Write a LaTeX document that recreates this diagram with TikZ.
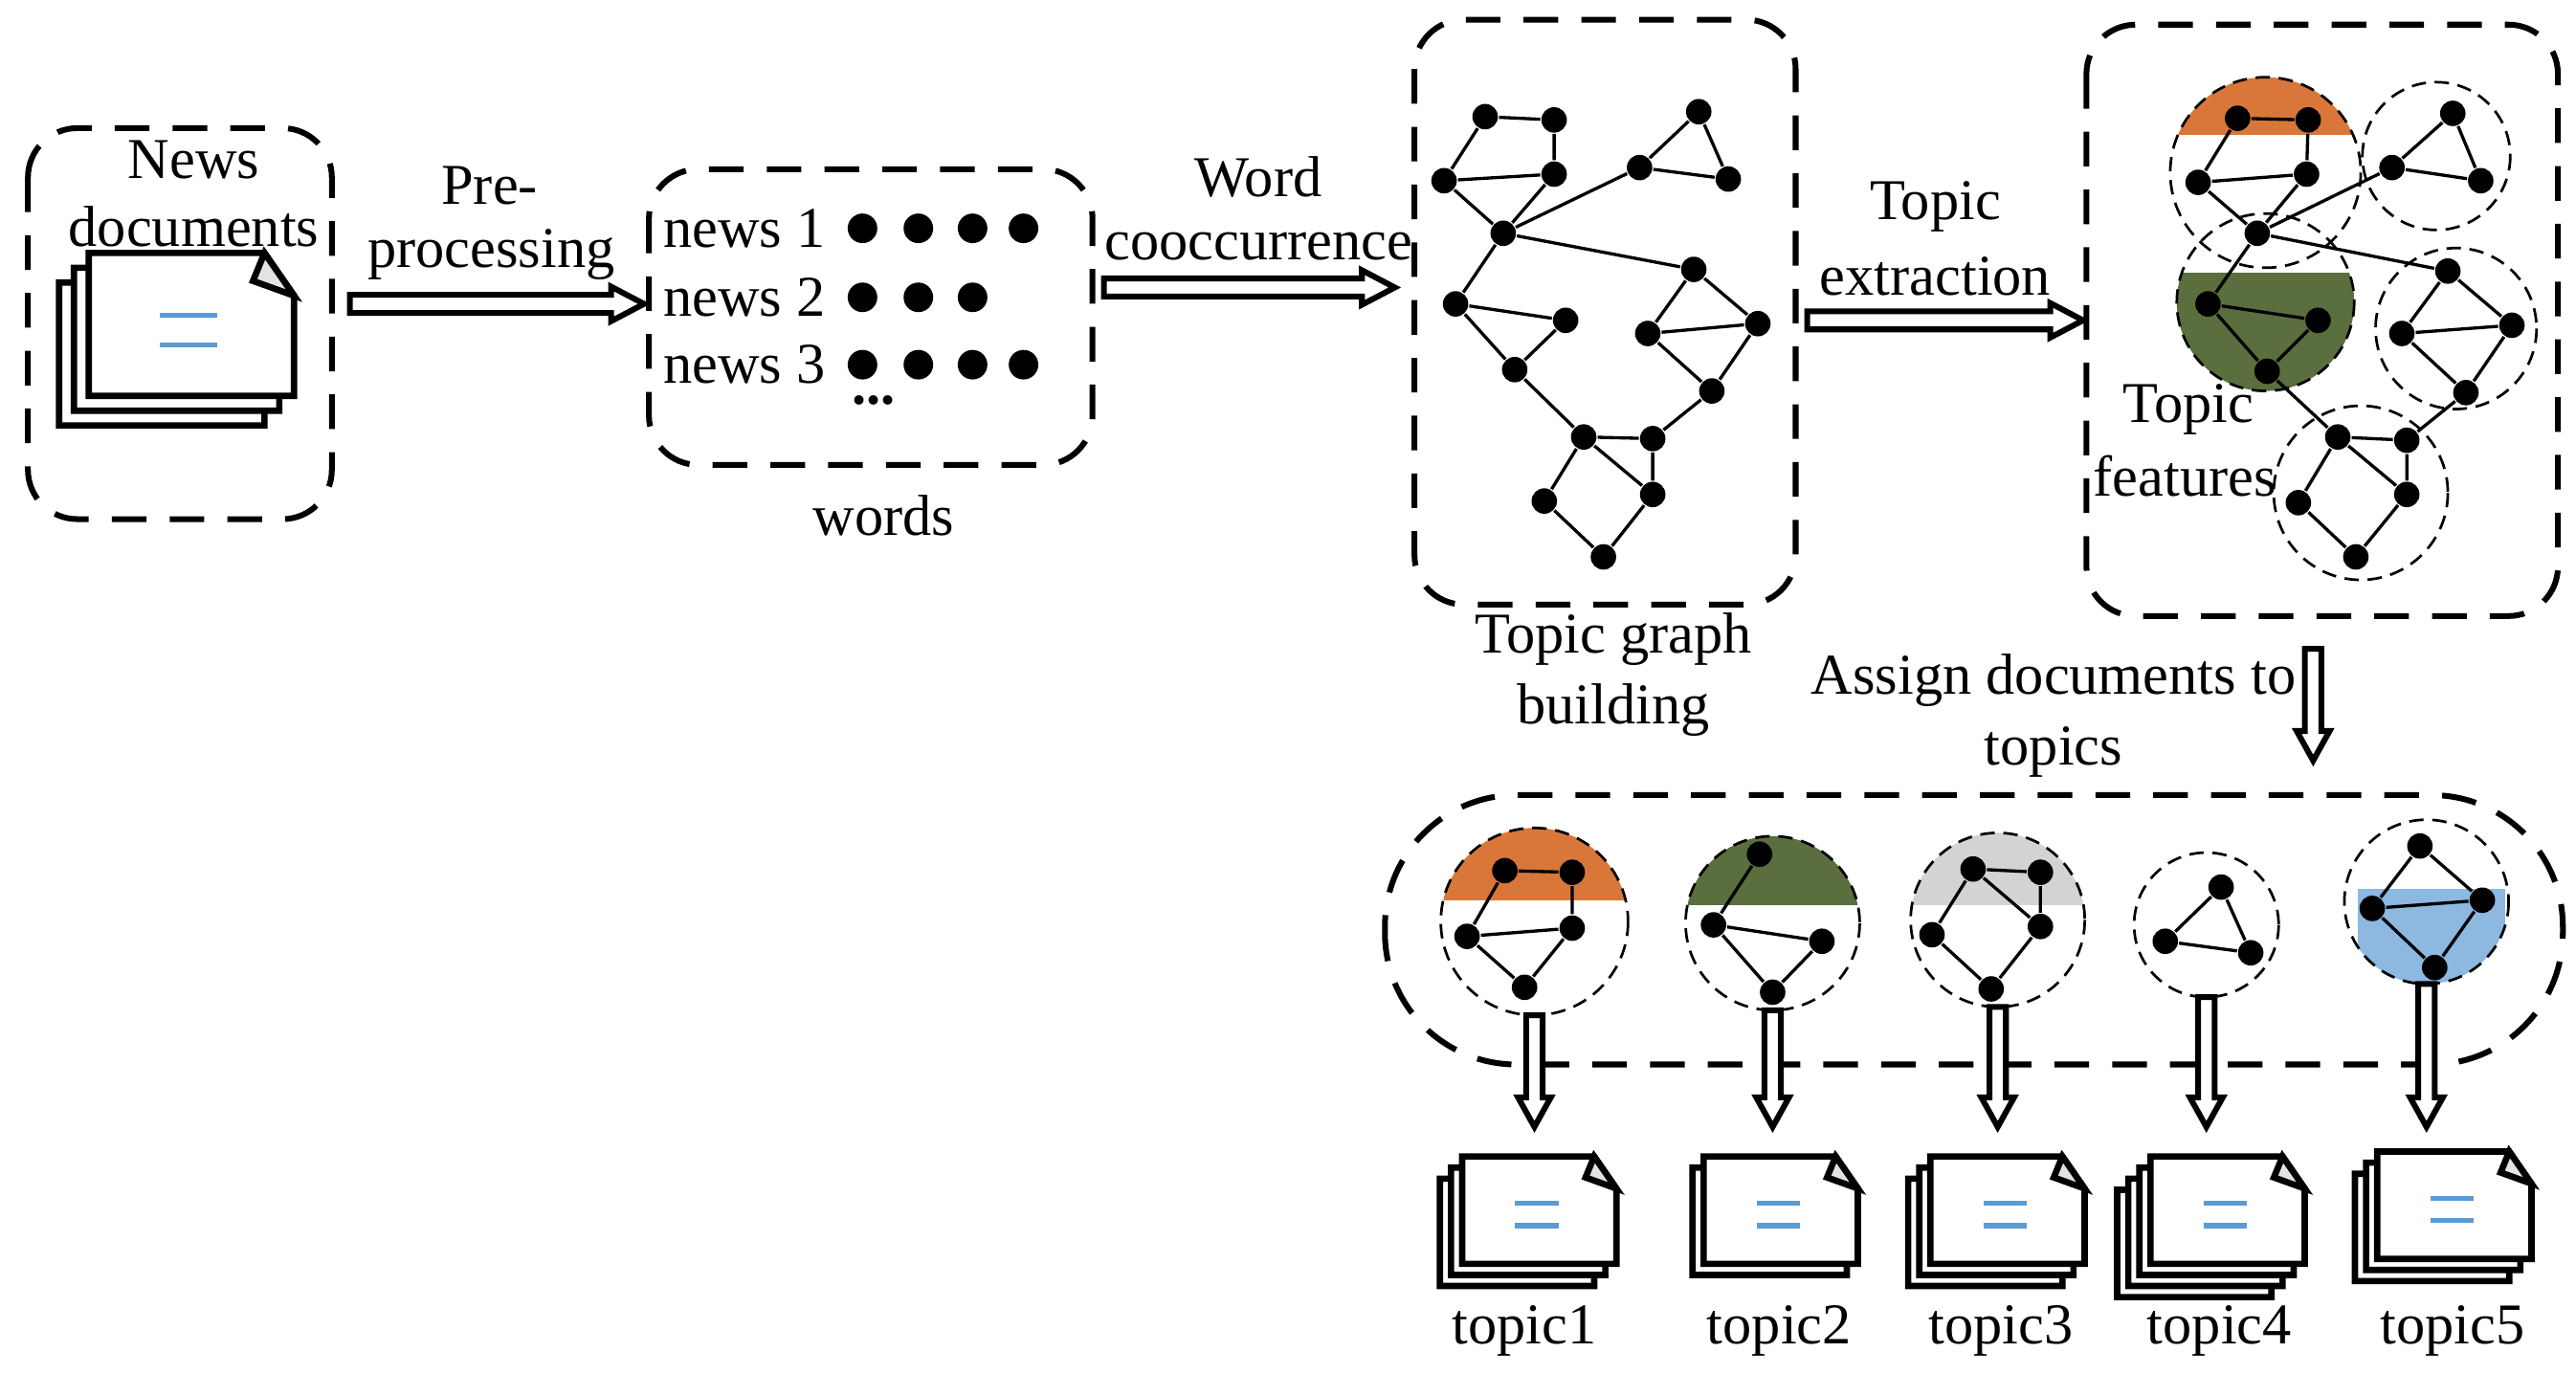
\documentclass[tikz,border=0pt]{standalone}
\usepackage{fontspec}
\setmainfont{Liberation Serif}
\definecolor{cor}{HTML}{D9773A}
\definecolor{cgr}{HTML}{5A6E3E}
\definecolor{cgy}{HTML}{D3D3D3}
\definecolor{cbl}{HTML}{8DB8E0}
\definecolor{cln}{HTML}{5B9BD5}
\definecolor{cfold}{HTML}{E3E3E3}
\begin{document}
\begin{tikzpicture}[x=0.01cm,y=-0.01cm,
  dot/.style={circle,fill=black,inner sep=0pt,minimum size=0.155cm},
  wdot/.style={circle,fill=black,inner sep=0pt,minimum size=0.18cm},
  lab/.style={font=\fontsize{10}{10}\selectfont,inner sep=0pt},
  dbox/.style={draw,dashed,dash pattern=on 6pt off 4pt,line width=1pt,rounded corners=0.3cm},
  dc/.style={draw,dash pattern=on 2.5pt off 1.5pt,line width=0.45pt},
  e/.style={line width=0.55pt},
  small/.style={x=0.0075cm,y=-0.0075cm},
  pics/harrow/.style args={#1}{code={
    \draw[line width=1pt,fill=white] (0,-5.5)--(#1-20,-5.5)--(#1-20,-10.5)--(#1,0)--(#1-20,10.5)--(#1-20,5.5)--(0,5.5)--cycle;}},
  pics/varrow/.style args={#1}{code={
    \draw[line width=1pt,fill=white] (-5,0)--(-5,#1-18)--(-10,#1-18)--(0,#1)--(10,#1-18)--(5,#1-18)--(5,0)--cycle;}},
  pics/page/.style={code={
    \draw[line width=1.1pt,fill=white] (0,0)--(107,0)--(125,26)--(125,87)--(0,87)--cycle;
    \draw[line width=1.1pt,fill=cfold] (107,0)--(100,17)--(125,26)--cycle;}},
  pics/docs/.style={code={
    \foreach \k in {#1,...,1} {\pic at ({-9*(\k-1)},{9*(\k-1)}) {page};}
    \draw[cln,line width=0.9pt] (43,38)--(78,38) (43,56)--(78,56);}}
]
\useasboundingbox (0,0) rectangle (1568,836);
% box 1
\draw[dbox] (17,78) rectangle (202,316);
\pic at (54,154) {docs=3};
\node[lab] (n1) at (118,97) {News};
\node[lab] (n2) at (118,138) {documents};
\pic at (213,185) {harrow=179};
\node[lab] (p1) at (298,113) {Pre-};
\node[lab] (p2) at (299,155) {processing};
% box 2
\draw[dbox] (395,103) rectangle (665,283);
\node[lab] (w1) at (453,139) {news 1};
\node[lab] (w2) at (453,181) {news 2};
\node[lab] (w3) at (453,222) {news 3};
\foreach \x in {525,559,592,623} {\node[wdot] at (\x,139) {}; \node[wdot] at (\x,222) {};}
\foreach \x in {525,559,592} {\node[wdot] at (\x,181) {};}
\node[font=\bfseries\fontsize{10}{10}\selectfont] (dd) at (532,244) {...};
\node[lab] (wd) at (538,314) {words};
\pic at (672,175) {harrow=177};
\node[lab] (c1) at (766,108) {Word};
\node[lab] (c2) at (766,150) {cooccurrence};
% box 3
\draw[dbox] (861,12) rectangle (1093,368);
\foreach \n/\x/\y in {a/904/71,b/946/73,c/879/110,d/946/106,e/1034/68,f/998/102,g/1052/109,h/915/142,i/886/185,j/953/195,k/1031/164,l/1003/203,m/1070/197,n/922/225,o/1042/238,p/964/266,q/1006/267,r/940/305,s/1006/301,t/976/339}
  \node[dot] (\n) at (\x,\y) {};
\draw[e] (a)--(b)--(d)--(c)--(a) (c)--(h)--(d) (h)--(f)--(e)--(g)--(f) (h)--(k) (h)--(i)--(j)--(n)--(i)
  (k)--(l)--(m)--(k) (l)--(o)--(m) (n)--(p) (o)--(q)--(p)--(r)--(t)--(s)--(q) (p)--(s);
\node[lab] (g1) at (982,389) {Topic graph};
\node[lab] (g2) at (982,432) {building};
\pic at (1100,195) {harrow=168};
\node[lab] (x1) at (1178,126) {Topic};
\node[lab] (x2) at (1178,168) {extraction};
% box 4
\draw[dbox] (1270,15) rectangle (1557,375);
\begin{scope}\clip (1379,105) circle (58); \fill[cor] (1300,40) rectangle (1460,82);\end{scope}
\begin{scope}\clip (1379,184) circle (54); \fill[cgr] (1300,166) rectangle (1460,260);\end{scope}
\draw[dc] (1379,105) circle (58) (1483,95) circle (45) (1379,184) circle (54) (1495,200) circle (49) (1437,300) circle (53);
\foreach \n/\x/\y in {A1/1362/72,A2/1405/73,A3/1338/111,A4/1404/106,A5/1374/142,
  B1/1493/69,B2/1456/102,B3/1510/110,
  D1/1344/185,D2/1411/195,D3/1380/226,
  E1/1490/165,E2/1462/203,E3/1529/198,E4/1501/239,
  F1/1423/266,F2/1465/268,F3/1465/301,F4/1399/306,F5/1434/339}
  \node[dot] (\n) at (\x,\y) {};
\draw[e] (A1)--(A2)--(A4)--(A3)--(A1) (A3)--(A5)--(A4) (A5)--(B2) (A5)--(E1) (A5)--(D1)
  (B1)--(B2)--(B3)--(B1)
  (D1)--(D2)--(D3)--(D1) (D3)--(F1)
  (E1)--(E2)--(E3)--(E1) (E2)--(E4)--(E3) (E4)--(F2)
  (F1)--(F2)--(F3)--(F1) (F1)--(F4)--(F5)--(F3);
\node[lab] (t1) at (1332,249) {Topic};
\node[lab] (t2) at (1330,290) {features};
\pic at (1408,395) {varrow=68};
\node[lab] (s1) at (1250,414) {Assign documents to};
\node[lab] (s2) at (1250,458) {topics};
% bottom box
\draw[dashed,dash pattern=on 6pt off 4pt,line width=1pt,rounded corners=0.8cm] (843,484) rectangle (1560,648);
\begin{scope}\clip (934,561) circle (57); \fill[cor] (870,500) rectangle (1000,548);\end{scope}
\begin{scope}\clip (1079,562) circle (53); \fill[cgr] (1020,500) rectangle (1140,551);\end{scope}
\begin{scope}\clip (1216,560) circle (53); \fill[cgy] (1150,500) rectangle (1280,551);\end{scope}
\begin{scope}\clip (1477,549) circle (50); \fill[cbl] (1435,541) rectangle (1525,610);\end{scope}
\draw[dc] (934,561) circle (57) (1079,562) circle (53) (1216,560) circle (53) (1343,563) circle (44) (1477,549) circle (50);
\foreach \n/\x/\y in {G1/916/530,G2/957/531,G3/893/570,G4/957/565,G5/928/601,
  H1/1071/520,H2/1043/563,H3/1109/573,H4/1079/604,
  I1/1201/529,I2/1242/531,I3/1176/569,I4/1242/564,I5/1212/602,
  J1/1352/540,J2/1318/573,J3/1370/580,
  K1/1473/515,K2/1444/553,K3/1511/548,K4/1482/589}
  \node[dot] (\n) at (\x,\y) {};
\draw[e] (G1)--(G2)--(G4)--(G3)--(G1) (G3)--(G5)--(G4)
  (H1)--(H2)--(H3)--(H4)--(H2)
  (I1)--(I2)--(I4)--(I1)--(I3)--(I5)--(I4)
  (J1)--(J2)--(J3)--(J1)
  (K1)--(K2)--(K3)--(K1) (K2)--(K4)--(K3);
\foreach \x/\y/\t/\lx [evaluate=\y as \L using int(686-\y)] in {934/618/1/928,1079/615/2/1083,1216/613/3/1218,1343/607/4/1351,1477/599/5/1493}{
  \pic at (\x,\y) {varrow=\L};
  \node[lab] (tp\t) at (\lx,810) {topic\t};
}
\begin{scope}[shift={(890,704)},small]\pic at (0,0) {docs=3};\end{scope}
\begin{scope}[shift={(1037,704)},small]\pic at (0,0) {docs=2};\end{scope}
\begin{scope}[shift={(1175,704)},small]\pic at (0,0) {docs=3};\end{scope}
\begin{scope}[shift={(1309,704)},small]\pic at (0,0) {docs=4};\end{scope}
\begin{scope}[shift={(1447,701)},small]\pic at (0,0) {docs=3};\end{scope}
\end{tikzpicture}
\end{document}
